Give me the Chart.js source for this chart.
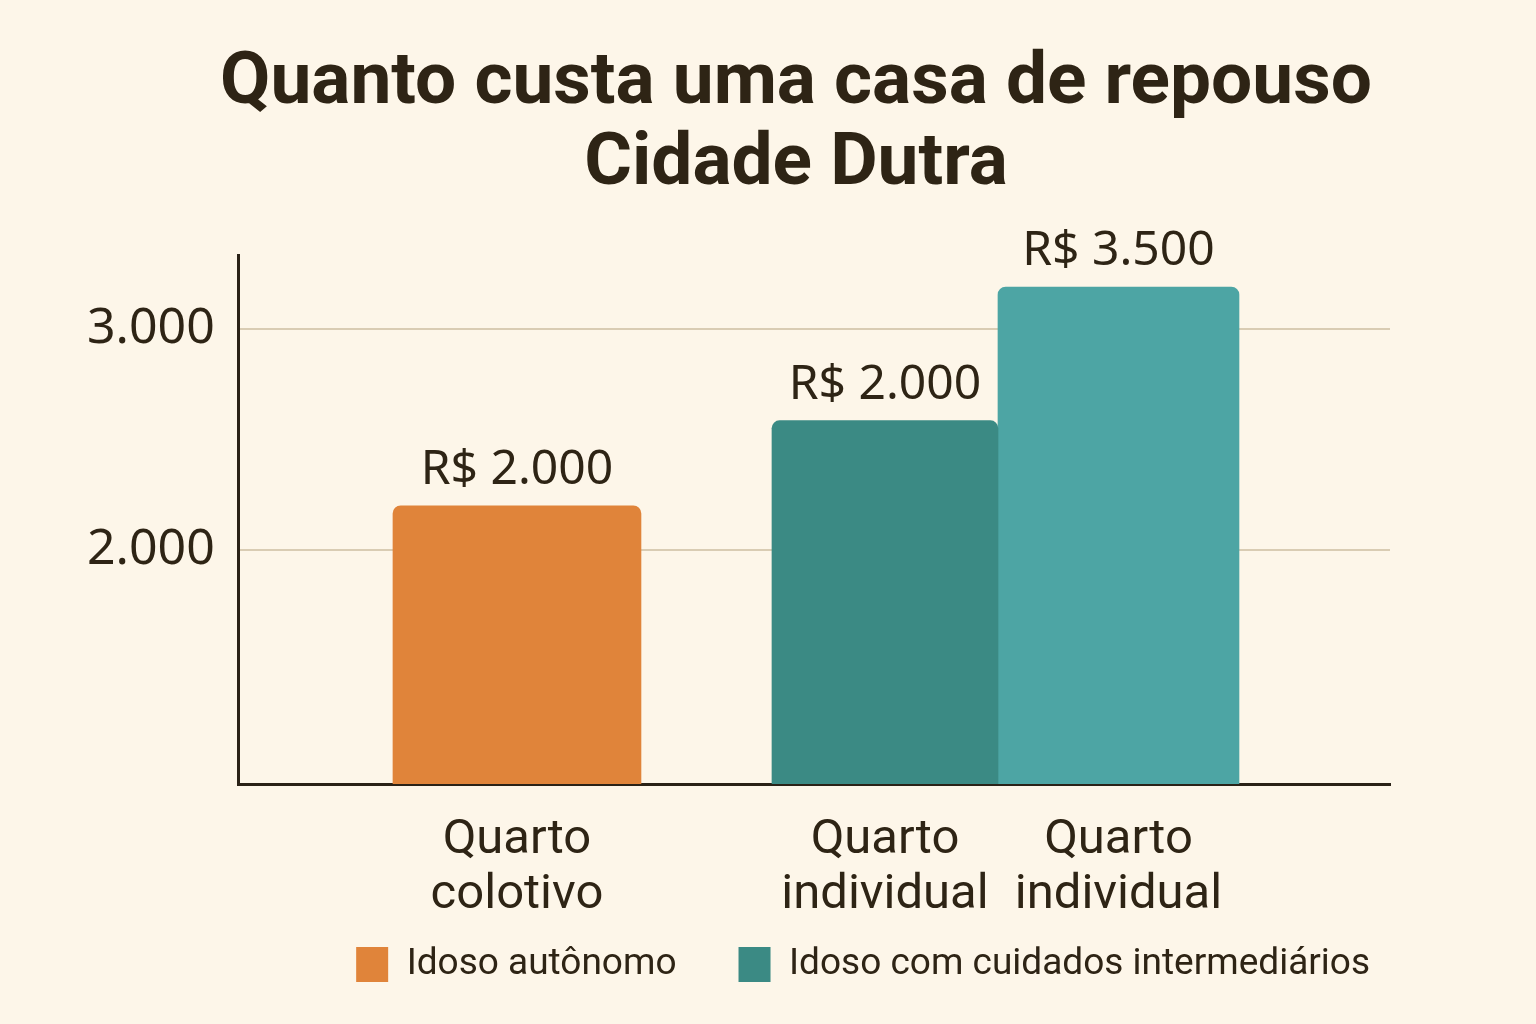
<!DOCTYPE html>
<html><head><meta charset="utf-8">
<script src="https://cdn.jsdelivr.net/npm/chart.js@4.4.0/dist/chart.umd.min.js"></script>
<style>
html,body{margin:0;padding:0;background:#fdf6e9;overflow:hidden;}
#wrap{position:relative;width:1536px;height:1024px;}
</style></head><body>
<div id="wrap"><canvas id="c"></canvas></div>
<script>
// ---- data ----
const titleLines = ['Quanto custa uma casa de repouso', 'Cidade Dutra'];
const groupIndex = [0, 1];
const seriesNames = ['Idoso autônomo', 'Idoso com cuidados intermediários', 'Idoso com cuidados intermediários'];
const autonomoValues = [2200, null];
const intermediarioValues = [null, 2585];
const intermediario2Values = [null, 3190];
const barCategories = [['Quarto', 'colotivo'], ['Quarto', 'individual'], ['Quarto', 'individual']];
const valueLabels = ['R$ 2.000', 'R$ 2.000', 'R$ 3.500'];
const yTicks = [2000, 3000];

// ---- style ----
const TEXT = '#2e2415';
const AXIS = '#2a2217';
const COLORS = ['#e0843a', '#3b8a84', '#4da5a4'];
const WIDTHS = [248, 226, 241];

const fmt = v => String(v).replace(/\B(?=(\d{3})+(?!\d))/g, '.');
const toPoints = arr => groupIndex.map((g, i) => ({x: g, y: arr[i]}));

const seriesValues = [autonomoValues, intermediarioValues, intermediario2Values];
const datasets = seriesValues.map((vals, i) => ({
  label: seriesNames[i],
  data: toPoints(vals),
  backgroundColor: COLORS[i],
  borderWidth: 0,
  borderRadius: 8,
  borderSkipped: 'start',
  barThickness: WIDTHS[i],
  skipNull: true,
  xAxisID: 'x',
  yAxisID: 'y'
}));

const labelPlugin = {
  id: 'barLabels',
  afterDatasetsDraw(chart) {
    const ctx = chart.ctx;
    const bottom = chart.chartArea.bottom;
    let k = 0;
    chart.data.datasets.forEach((ds, di) => {
      const meta = chart.getDatasetMeta(di);
      meta.data.forEach((bar, i) => {
        if (ds.data[i].y == null) return;
        ctx.save();
        ctx.fillStyle = TEXT;
        ctx.textAlign = 'center';
        ctx.textBaseline = 'alphabetic';
        ctx.font = '48px "Noto Sans"';
        ctx.fillText(valueLabels[k], bar.x, bar.y - 22);
        ctx.font = '49px Roboto';
        const lines = barCategories[k];
        lines.forEach((ln, li) => ctx.fillText(ln, bar.x, bottom + 69 + li * 55));
        ctx.restore();
        k++;
      });
    });
  }
};

new Chart(document.getElementById('c'), {
  type: 'bar',
  data: { datasets },
  options: {
    responsive: true,
    maintainAspectRatio: false,
    animation: false,
    layout: { padding: { left: 160, right: 104, top: 0, bottom: 31 } },
    plugins: {
      title: {
        display: true,
        text: titleLines,
        color: TEXT,
        font: { family: 'Roboto', size: 73, weight: 'bold', lineHeight: 1.11 },
        padding: { top: 44, bottom: 49 }
      },
      legend: {
        position: 'bottom',
        align: 'end',
        labels: {
          boxWidth: 32, boxHeight: 35, padding: 62, color: TEXT,
          font: { family: 'Roboto', size: 37 },
          filter: item => item.datasetIndex < 2
        }
      },
      tooltip: { enabled: false }
    },
    scales: {
      x: {
        type: 'linear', min: -0.58, max: 1.815, offset: false,
        grid: { display: false, drawTicks: false },
        border: { display: true, color: AXIS, width: 3 },
        ticks: { display: false },
        afterFit(s) { s.height = 100; }
      },
      y: {
        type: 'linear', min: 940, max: 3335,
        afterBuildTicks(s) { s.ticks = yTicks.map(v => ({ value: v })); },
        grid: { color: '#d9ccb3', lineWidth: 2, drawTicks: false },
        border: { display: true, color: AXIS, width: 3 },
        ticks: {
          mirror: true, crossAlign: 'near', padding: -151,
          color: TEXT, font: { family: 'Noto Sans', size: 50 }, callback: v => fmt(v)
        },
        afterFit(s) { s.width = 78; }
      },
      yR: {
        type: 'linear', position: 'right', display: true,
        grid: { display: false, drawTicks: false },
        border: { display: false },
        ticks: { display: false },
        afterFit(s) { s.width = 42; }
      }
    }
  },
  plugins: [labelPlugin]
});
</script>
</body></html>
